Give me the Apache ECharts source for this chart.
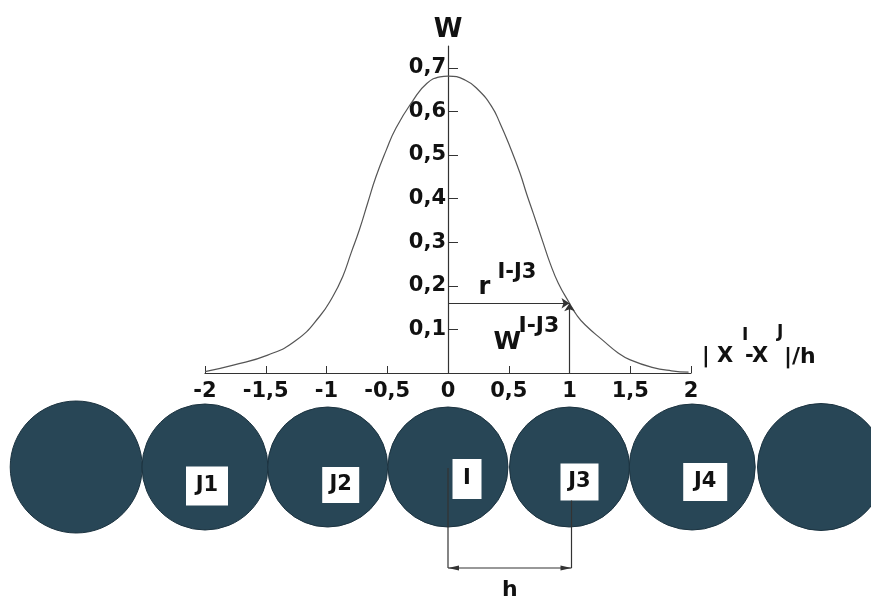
<!DOCTYPE html>
<html>
<head>
<meta charset="utf-8">
<script src="https://cdn.jsdelivr.net/npm/echarts@6/dist/echarts.min.js"></script>
<style>
  html, body { margin: 0; padding: 0; background: #ffffff; }
  #main { width: 871px; height: 603px; }
</style>
</head>
<body>
<div id="main"></div>
<script>
// Smoothing kernel W plotted against the normalised distance |x_I - x_J| / h
const curveQ = [-2.0, -1.767, -1.484, -1.25, -1.059, -0.949, -0.867, -0.798, -0.73, -0.661,
                -0.593, -0.51, -0.428, -0.286, -0.175, -0.066, 0.0, 0.14, 0.25, 0.36,
                0.428, 0.51, 0.593, 0.648, 0.702, 0.784, 0.84, 0.908, 1.0, 1.059,
                1.13, 1.27, 1.40, 1.50, 1.68, 1.84, 1.98];
const curveW = [0.003, 0.018, 0.041, 0.075, 0.129, 0.175, 0.221, 0.275, 0.328, 0.39,
                0.45, 0.51, 0.562, 0.626, 0.664, 0.679, 0.681, 0.672, 0.649, 0.611,
                0.573, 0.519, 0.458, 0.41, 0.366, 0.298, 0.252, 0.206, 0.16, 0.133,
                0.11, 0.076, 0.046, 0.030, 0.013, 0.005, 0.002];

// Axis tick values
const xTicks = [-2, -1.5, -1, -0.5, 0, 0.5, 1, 1.5, 2];
const yTicks = [0.1, 0.2, 0.3, 0.4, 0.5, 0.6, 0.7];

// Particle row (positions in units of h) and their names
const particleQ = [-3.06, -2, -0.99, 0, 1, 2.01, 3.07];
const particleNames = ['', 'J1', 'J2', 'I', 'J3', 'J4', ''];

// Highlighted pair I - J3: distance and kernel weight
const pairR = 1.0;
const pairW = 0.16;

const FONT = 'DejaVu Sans';
const INK = '#111111';
const LINE = '#333333';

const chartW = 871;
const gridLeft = 205, gridRight = 180, gridTop = 46, gridBottom = 230;
const xMin = -2, xMax = 2;
const unit = (chartW - gridLeft - gridRight) / (xMax - xMin);

const comma = v => String(v).replace('.', ',');

// Per-particle look (diameter, label box)
const circleSize = [132, 126, 120, 120, 120, 126, 127];
const labelBox = {
  J1: { off: [2, 19], w: 42, h: 39 },
  J2: { off: [13, 18], w: 37, h: 36 },
  I:  { off: [19, 12], w: 29, h: 40 },
  J3: { off: [10, 15], w: 38, h: 37 },
  J4: { off: [13, 15], w: 44, h: 38 }
};

const particleData = particleQ.map((q, i) => {
  const name = particleNames[i];
  const item = { value: [q, 0], symbolSize: circleSize[i] };
  if (name) {
    const b = labelBox[name];
    item.label = {
      show: true, position: 'inside', formatter: name, offset: b.off,
      width: b.w, height: b.h, lineHeight: b.h, align: 'center', verticalAlign: 'middle',
      backgroundColor: '#ffffff', color: INK, fontFamily: FONT, fontWeight: 'bold', fontSize: 21
    };
  }
  return item;
});

const chart = echarts.init(document.getElementById('main'), null, { renderer: 'canvas' });

chart.setOption({
  animation: false,
  backgroundColor: '#ffffff',
  grid: [
    { left: gridLeft, right: gridRight, top: gridTop, bottom: gridBottom },
    { left: 0, right: 0, top: 407, bottom: 76 }
  ],
  xAxis: [
    {
      gridIndex: 0, type: 'value', min: xMin, max: xMax, interval: 0.5,
      axisLine: { onZero: false, lineStyle: { color: LINE, width: 1.2 } },
      axisTick: { inside: true, length: 7, customValues: xTicks, lineStyle: { color: LINE } },
      axisLabel: { customValues: xTicks, margin: 8, formatter: comma,
        color: INK, fontFamily: FONT, fontWeight: 'bold', fontSize: 21 },
      splitLine: { show: false }
    },
    {
      gridIndex: 1, type: 'value', show: false,
      min: xMin - gridLeft / unit, max: xMax + gridRight / unit
    }
  ],
  yAxis: [
    {
      gridIndex: 0, type: 'value', min: 0, max: 0.75, position: 'left',
      // the W axis stands at q = 0
      offset: -(0 - xMin) * unit,
      axisLine: { onZero: false, lineStyle: { color: LINE, width: 1.2 } },
      axisTick: { inside: true, length: 10, customValues: yTicks, lineStyle: { color: LINE } },
      axisLabel: { customValues: yTicks, margin: 2, formatter: comma,
        color: INK, fontFamily: FONT, fontWeight: 'bold', fontSize: 21 },
      splitLine: { show: false },
      name: 'W', nameLocation: 'end', nameGap: 3,
      nameTextStyle: { fontFamily: FONT, fontWeight: 'bold', fontSize: 26, color: INK }
    },
    { gridIndex: 1, type: 'value', show: false, min: -1, max: 1 }
  ],
  series: [
    {
      type: 'line', xAxisIndex: 0, yAxisIndex: 0,
      data: curveQ.map((q, i) => [q, curveW[i]]),
      smooth: 0.5, showSymbol: false, silent: true,
      lineStyle: { color: '#555555', width: 1.2 },
      markLine: {
        silent: true, symbol: ['none', 'arrow'], symbolSize: 8,
        label: { show: false },
        lineStyle: { color: LINE, width: 1.2, type: 'solid' },
        data: [
          [{ coord: [0, pairW] }, { coord: [pairR, pairW] }],
          [{ coord: [pairR, 0] }, { coord: [pairR, pairW] }]
        ]
      }
    },
    {
      type: 'scatter', xAxisIndex: 1, yAxisIndex: 1, silent: true,
      symbol: 'circle',
      itemStyle: { color: '#284656', borderColor: '#1c3340', borderWidth: 1, opacity: 1 },
      emphasis: { disabled: true },
      data: particleData,
      z: 3
    }
  ]
});

// Text pieces placed relative to an anchor point (dx, dy = centre of each piece)
function texts(anchor, pieces) {
  return pieces.map(p => ({
    type: 'text', silent: true, z: 20,
    x: anchor[0] + p.dx, y: anchor[1] + p.dy,
    style: { text: p.t, fontFamily: FONT, fontWeight: 'bold', fontSize: p.size, fill: INK,
      align: p.align || 'left', verticalAlign: 'middle' }
  }));
}

const axisEnd = chart.convertToPixel({ xAxisIndex: 0, yAxisIndex: 0 }, [xMax, 0]);
const pairPt = chart.convertToPixel({ xAxisIndex: 0, yAxisIndex: 0 }, [pairR, pairW]);
const pI = chart.convertToPixel({ xAxisIndex: 1, yAxisIndex: 1 }, [particleQ[3], 0]);
const pJ = chart.convertToPixel({ xAxisIndex: 1, yAxisIndex: 1 }, [particleQ[4], 0]);
const yDim = pI[1] + 101;
const xJ = pJ[0] + 2;
const boxJ3 = labelBox.J3;
const arrowLen = 11, arrowHalf = 2.5;

chart.setOption({
  graphic: [].concat(
    // axis caption |x^I - x^J| / h
    texts(axisEnd, [
      { t: '| X', dx: 11, dy: -16, size: 21 },
      { t: 'I', dx: 51, dy: -37, size: 17 },
      { t: '-X', dx: 54, dy: -16, size: 21 },
      { t: 'J', dx: 86, dy: -40, size: 17 },
      { t: '|/h', dx: 93, dy: -16, size: 22 }
    ]),
    // distance r and weight W of the pair I-J3
    texts(pairPt, [
      { t: 'r', dx: -91, dy: -15, size: 24 },
      { t: 'I-J3', dx: -72, dy: -31, size: 21 },
      { t: 'W', dx: -76, dy: 39, size: 25 },
      { t: 'I-J3', dx: -51, dy: 23, size: 22 }
    ]),
    [
      { type: 'line', silent: true, z: 10, shape: { x1: pI[0], y1: pI[1] + 1, x2: pI[0], y2: yDim },
        style: { stroke: LINE, lineWidth: 1.2 } },
      { type: 'line', silent: true, z: 10,
        shape: { x1: xJ, y1: pJ[1] + boxJ3.off[1] + boxJ3.h / 2, x2: xJ, y2: yDim },
        style: { stroke: LINE, lineWidth: 1.2 } },
      { type: 'line', silent: true, z: 10, shape: { x1: pI[0], y1: yDim, x2: xJ, y2: yDim },
        style: { stroke: LINE, lineWidth: 1.2 } },
      { type: 'polygon', silent: true, z: 10,
        shape: { points: [[pI[0], yDim], [pI[0] + arrowLen, yDim - arrowHalf], [pI[0] + arrowLen, yDim + arrowHalf]] },
        style: { fill: LINE } },
      { type: 'polygon', silent: true, z: 10,
        shape: { points: [[xJ, yDim], [xJ - arrowLen, yDim - arrowHalf], [xJ - arrowLen, yDim + arrowHalf]] },
        style: { fill: LINE } }
    ],
    texts([(pI[0] + xJ) / 2, yDim], [{ t: 'h', dx: 0, dy: 22, size: 22, align: 'center' }])
  )
});
</script>
</body>
</html>
